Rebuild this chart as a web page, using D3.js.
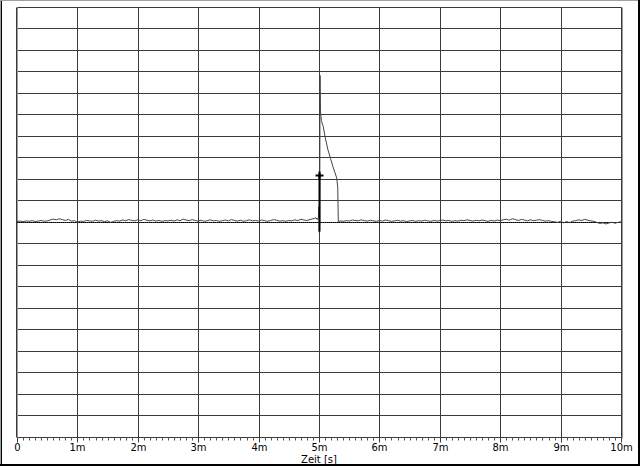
<!DOCTYPE html>
<html>
<head>
<meta charset="utf-8">
<script src="https://cdn.jsdelivr.net/npm/d3@7"></script>
<style>
  html, body { margin: 0; padding: 0; background: #fff; }
  svg { display: block; }
  text { font-family: "DejaVu Sans", Verdana, sans-serif; }
</style>
</head>
<body>
<svg id="chart" width="640" height="466"></svg>
<script>
// ---- data (time in ms, amplitude in grid units) ----
const xTickValues = [0, 1, 2, 3, 4, 5, 6, 7, 8, 9, 10];
const xTickLabels = ["0", "1m", "2m", "3m", "4m", "5m", "6m", "7m", "8m", "9m", "10m"];
const xAxisTitle = "Zeit [s]";
const sampleStep = 0.05;          // ms between noise samples
const preNoiseStart = 0;          // ms
const preNoise = [
  0.02, 0.03, 0.00, 0.04, 0.02, 0.05, 0.01, 0.03, 0.06, 0.02,
  0.04, 0.08, 0.12, 0.09, 0.14, 0.10, 0.06, 0.11, 0.03, 0.05,
  -0.02, 0.03, 0.01, 0.06, 0.04, 0.02, 0.07, 0.03, 0.05, 0.01,
  0.04, -0.03, 0.02, 0.05, 0.03, 0.08, 0.05, 0.10, 0.06, 0.04,
  0.09, 0.05, 0.11, 0.07, 0.04, 0.08, 0.03, 0.06, 0.02, 0.05,
  0.04, 0.07, 0.03, 0.09, 0.05, 0.12, 0.08, 0.05, 0.10, 0.06,
  0.03, 0.07, 0.02, 0.05, 0.09, 0.04, 0.06, 0.02, 0.05, 0.08,
  0.04, 0.10, 0.06, 0.03, 0.07, 0.02, 0.05, 0.09, 0.04, 0.06,
  0.03, 0.08, 0.05, 0.02, 0.06, 0.10, 0.07, 0.03, 0.05, 0.02,
  0.06, 0.04, 0.09, 0.05, 0.12, 0.08, 0.06, 0.10, 0.14, 0.18
];
const pulseTimes  = [4.97, 4.99, 5.00, 5.005, 5.012, 5.017, 5.025, 5.04, 5.071, 5.10, 5.149, 5.19, 5.232, 5.293, 5.31, 5.32, 5.35];
const pulseValues = [0.10, 0.20, 0.70, -0.50, 0.00, 6.80, 5.10, 4.70, 4.41, 3.95, 3.33, 2.95, 2.55, 2.04, 1.60, 0.00, 0.04];
const postNoiseStart = 5.40;      // ms
const postNoise = [
  0.02, 0.05, 0.03, 0.08, 0.06, 0.04, 0.09, 0.05, 0.03, 0.07,
  0.04, 0.02, 0.06, 0.03, 0.08, 0.05, 0.02, 0.04, 0.07, 0.03,
  0.05, 0.01, 0.04, 0.06, 0.02, 0.05, 0.03, 0.07, 0.04, 0.02,
  0.06, 0.03, 0.05, 0.08, 0.04, 0.06, 0.02, 0.05, 0.03, 0.07,
  0.05, 0.09, 0.06, 0.03, 0.07, 0.04, 0.08, 0.05, 0.02, 0.06,
  0.03, 0.08, 0.05, 0.09, 0.12, 0.07, 0.14, 0.10, 0.06, 0.11,
  0.08, 0.04, 0.09, 0.05, 0.07, 0.10, 0.06, 0.03, 0.05, 0.02,
  0.00, -0.03, 0.02, -0.05, 0.01, -0.04, 0.03, 0.05, 0.09, 0.06,
  0.11, 0.07, 0.04, 0.02, -0.03, -0.08, -0.05, -0.10, -0.06, -0.02,
  -0.07, -0.03, 0.00
];
const triggerTime = 5.0;
const triggerLow = -0.46;
const triggerHigh = 2.25;
const triggerMark = 2.15;

// ---- build series ----
const series = [];
preNoise.forEach((v, i) => series.push([preNoiseStart + i * sampleStep, v]));
pulseTimes.forEach((t, i) => series.push([t, pulseValues[i]]));
postNoise.forEach((v, i) => series.push([postNoiseStart + i * sampleStep, v]));

// ---- layout ----
const svg = d3.select("#chart");
const W = 640, H = 466;
const plotLeft = 17, plotRight = 621, plotTop = 6.5, plotBottom = 437;

const x = d3.scaleLinear().domain([0, 10]).range([plotLeft, plotRight]);
const y = d3.scaleLinear().domain([-10, 10]).range([plotBottom, plotTop]);
const px = v => Math.round(v) + 0.5;

// outer frame
svg.append("rect").attr("x", 0).attr("y", 0).attr("width", W).attr("height", H).attr("fill", "#fff");
svg.append("line").attr("x1", 0.5).attr("x2", 0.5).attr("y1", 0).attr("y2", H).attr("stroke", "#a0a0a0");
svg.append("line").attr("x1", 0).attr("x2", W).attr("y1", 0.5).attr("y2", 0.5).attr("stroke", "#a0a0a0");
svg.append("line").attr("x1", 1.5).attr("x2", 1.5).attr("y1", 1).attr("y2", H - 1).attr("stroke", "#000");
svg.append("line").attr("x1", W - 1).attr("x2", W - 1).attr("y1", 0).attr("y2", H).attr("stroke", "#000").attr("stroke-width", 2);
svg.append("line").attr("x1", 0).attr("x2", W).attr("y1", H - 1).attr("y2", H - 1).attr("stroke", "#000").attr("stroke-width", 2);

// grid
const g = svg.append("g");
const yGrid = d3.range(-10, 10.001, 1);
g.selectAll("line.h").data(yGrid).join("line")
  .attr("x1", px(x(0))).attr("x2", px(x(10)))
  .attr("y1", d => px(y(d))).attr("y2", d => px(y(d)))
  .attr("stroke", "#3a3a3a");
g.selectAll("line.v").data(xTickValues).join("line")
  .attr("x1", d => px(x(d))).attr("x2", d => px(x(d)))
  .attr("y1", px(y(10))).attr("y2", px(y(-10)))
  .attr("stroke", "#3a3a3a");
// 3D-ish border shading
g.append("line").attr("x1", px(x(0)) - 1).attr("x2", px(x(0)) - 1).attr("y1", px(y(10))).attr("y2", px(y(-10))).attr("stroke", "#3a3a3a");
g.append("line").attr("x1", px(x(0)) ).attr("x2", px(x(0))).attr("y1", px(y(10)) + 1).attr("y2", px(y(-10))).attr("stroke", "#9a9a9a");
g.append("line").attr("x1", px(x(10)) + 1).attr("x2", px(x(10)) + 1).attr("y1", px(y(10))).attr("y2", px(y(-10)) + 1).attr("stroke", "#9a9a9a");

// x axis (ticks below plot)
const axis = d3.axisBottom(x)
  .tickValues(xTickValues)
  .tickFormat((d, i) => xTickLabels[i])
  .tickSize(5)
  .tickPadding(1);
const ax = svg.append("g").attr("transform", `translate(0,${px(y(-10))})`).call(axis);
ax.select(".domain").remove();
ax.selectAll(".tick").attr("transform", d => `translate(${px(x(d))},0)`);
ax.selectAll(".tick line").attr("stroke", "#3a3a3a");
ax.selectAll(".tick text").attr("font-size", 10).attr("fill", "#000").attr("font-family", "DejaVu Sans, Verdana, sans-serif");
// minor ticks
const minor = d3.range(0, 10.0001, 0.1).filter(v => Math.abs(v - Math.round(v)) > 1e-6);
svg.append("g").selectAll("line").data(minor).join("line")
  .attr("x1", d => px(x(d))).attr("x2", d => px(x(d)))
  .attr("y1", px(y(-10))).attr("y2", px(y(-10)) + 3)
  .attr("stroke", "#555");

svg.append("text")
  .attr("x", x(5)).attr("y", 463)
  .attr("text-anchor", "middle")
  .attr("font-size", 10)
  .attr("fill", "#000")
  .text(xAxisTitle);

// zero line (dotted)
svg.append("line")
  .attr("x1", x(0)).attr("x2", x(10))
  .attr("y1", px(y(0))).attr("y2", px(y(0)))
  .attr("stroke", "#000").attr("stroke-dasharray", "1,1");

// signal
const line = d3.line().x(d => x(d[0])).y(d => y(d[1]));
svg.append("path")
  .datum(series)
  .attr("d", line)
  .attr("fill", "none")
  .attr("stroke", "#444")
  .attr("stroke-width", 1);

// trigger marker
svg.append("line")
  .attr("x1", px(x(triggerTime))).attr("x2", px(x(triggerTime)))
  .attr("y1", y(triggerHigh)).attr("y2", y(triggerLow))
  .attr("stroke", "#000").attr("stroke-width", 2);
const mx = px(x(triggerTime)), my = y(triggerMark);
svg.append("path")
  .attr("d", `M${mx - 4},${my}H${mx + 4}M${mx},${my - 4}V${my + 4}`)
  .attr("stroke", "#000").attr("stroke-width", 2).attr("fill", "none");
</script>
</body>
</html>
